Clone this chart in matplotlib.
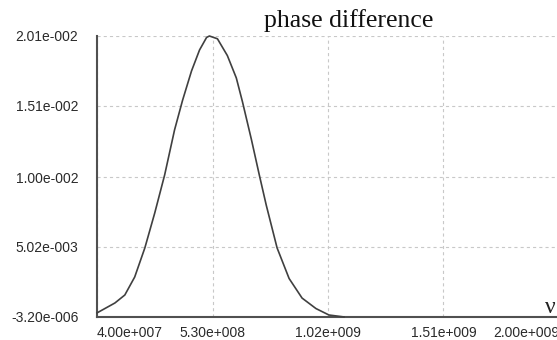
import matplotlib
matplotlib.use("Agg")
import matplotlib.pyplot as plt

# curve (frequency nu, phase difference)
nu = [4.0e7, 1.16e8, 1.58e8, 2.0e8, 2.43e8, 2.85e8, 3.27e8, 3.69e8, 4.03e8,
      4.41e8, 4.75e8, 5.05e8, 5.17e8, 5.51e8, 5.93e8, 6.31e8, 6.57e8, 6.95e8,
      7.28e8, 7.58e8, 8.04e8, 8.55e8, 9.10e8, 9.69e8, 1.024e9, 1.088e9]
phase = [2.9e-4, 1.0e-3, 1.57e-3, 2.86e-3, 4.94e-3, 7.44e-3, 1.016e-2, 1.338e-2, 1.55e-2,
         1.76e-2, 1.91e-2, 2.0e-2, 2.01e-2, 1.99e-2, 1.87e-2, 1.71e-2, 1.54e-2, 1.27e-2,
         1.02e-2, 8.0e-3, 4.94e-3, 2.75e-3, 1.35e-3, 6.0e-4, 1.4e-4, 0.0]

xticks = [4.00e7, 5.30e8, 1.02e9, 1.51e9, 2.00e9]
xticklabels = ["4.00e+007", "5.30e+008", "1.02e+009", "1.51e+009", "2.00e+009"]
yticks = [-3.20e-6, 5.02e-3, 1.00e-2, 1.51e-2, 2.01e-2]
yticklabels = ["-3.20e-006", "5.02e-003", "1.00e-002", "1.51e-002", "2.01e-002"]

W, H = 557, 340
fig = plt.figure(figsize=(W / 100, H / 100), dpi=100)
ax = fig.add_axes([97 / W, 1 - 317 / H, (559 - 97) / W, (317 - 36) / H])

ax.plot(nu, phase, color="#404040", lw=1.2, clip_on=False, zorder=3)

ax.set_xlim(xticks[0], xticks[-1])
ax.set_ylim(yticks[0], yticks[-1])
ax.set_xticks(xticks)
ax.set_xticklabels(xticklabels, family="Liberation Sans", fontsize=10, color="#2a2a2a")
ax.set_yticks(yticks)
ax.set_yticklabels(yticklabels, family="Liberation Sans", fontsize=10, color="#2a2a2a")
labels = ax.get_xticklabels()
labels[0].set_horizontalalignment("left")
labels[-1].set_horizontalalignment("right")
ax.tick_params(axis="x", length=0, pad=6.5)
ax.tick_params(axis="y", length=0, pad=13.5)

ax.grid(True, color="#c8c8c8", lw=0.8, linestyle=(0, (2.8, 2.8)))
for s in ["top", "right"]:
    ax.spines[s].set_visible(False)
for s in ["left", "bottom"]:
    ax.spines[s].set_color("#505050")
    ax.spines[s].set_linewidth(1.5)

fig.text(349 / W, 1 - 27 / H, "phase difference", family="Liberation Serif",
         fontsize=18.5, ha="center", va="baseline", color="#111111")
fig.text(550 / W, 1 - 313 / H, "ν", family="Liberation Serif",
         fontsize=17, ha="center", va="baseline", color="#222222")

fig.savefig("out.png", dpi=100)
